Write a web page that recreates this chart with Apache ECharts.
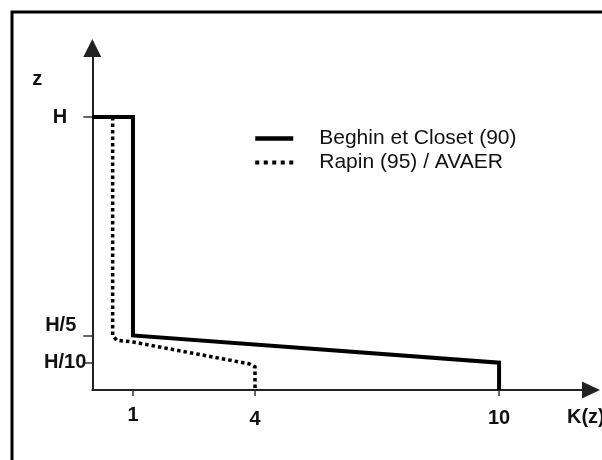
<!DOCTYPE html>
<html>
<head>
<meta charset="utf-8">
<script src="https://cdn.jsdelivr.net/npm/echarts@6/dist/echarts.min.js"></script>
<style>
html,body{margin:0;padding:0;background:#fff;}
#chart{width:602px;height:460px;}
</style>
</head>
<body>
<div id="chart"></div>
<script>
// Data
var seriesNames = ['Beghin et Closet (90)', 'Rapin (95) / AVAER'];
var beghin = [[0, 1], [1, 1], [1, 0.2], [10, 0.1], [10, 0]];
var rapin = [[0.5, 1], [0.5, 0.2], [0.6, 0.182], [1, 0.176], [3.85, 0.096], [4, 0.085], [4, 0]];
var xTickValues = [1, 4, 10];
var xTickLabels = ['1', '4', '10'];
var yTickValues = [0.1, 0.2, 1];
var yTickLabels = ['H/10', 'H/5', 'H'];
var xName = 'K(z)';
var yName = 'z';

var chart = echarts.init(document.getElementById('chart'));
var bold = { fontFamily: 'Liberation Sans, Arial, sans-serif', fontWeight: 'bold', fontSize: 20, color: '#111' };

chart.setOption({
  animation: false,
  backgroundColor: '#fff',
  grid: { left: 92.3, right: 11, top: 48, bottom: 70, containLabel: false, outerBoundsMode: 'none' },
  legend: {
    orient: 'vertical', left: 248, top: 123, itemWidth: 38, itemHeight: 14, itemGap: 3,
    itemStyle: { opacity: 0 },
    data: [
      { name: seriesNames[0], lineStyle: { width: 4.5, type: 'solid' } },
      { name: seriesNames[1], lineStyle: { width: 4, type: [4, 4.5] } }
    ],
    textStyle: { fontFamily: 'Liberation Sans, Arial, sans-serif', fontSize: 21, lineHeight: 20, color: '#111', padding: [0, 0, 0, 21] }
  },
  xAxis: {
    type: 'value', min: 0, max: 12.26,
    name: '{k|' + xName + '}', nameLocation: 'end', nameGap: -24,
    nameTextStyle: { align: 'left', verticalAlign: 'middle', rich: { k: Object.assign({}, bold, { padding: [54, 0, 0, 0] }) } },
    axisLine: { show: true, symbol: ['none', 'triangle'], symbolSize: [17, 18], lineStyle: { color: '#222', width: 2 } },
    axisTick: { show: true, customValues: xTickValues, length: 6, lineStyle: { color: '#333', width: 1.5 } },
    axisLabel: {
      customValues: xTickValues, margin: 15,
      formatter: function (v) {
        var i = xTickValues.indexOf(v);
        return '{x' + i + '|' + xTickLabels[i] + '}';
      },
      rich: {
        x0: Object.assign({}, bold, { padding: [0, 0, 0, 0] }),
        x1: Object.assign({}, bold, { padding: [4, 0, 0, 0] }),
        x2: Object.assign({}, bold, { padding: [3, 0, 0, 0] })
      }
    },
    splitLine: { show: false }
  },
  yAxis: {
    type: 'value', min: 0, max: 1.253,
    name: yName, nameLocation: 'end', nameGap: -31,
    nameTextStyle: Object.assign({}, bold, { align: 'center', verticalAlign: 'middle', padding: [0, 110, 0, 0] }),
    axisLine: { show: true, symbol: ['none', 'triangle'], symbolSize: [18, 18], lineStyle: { color: '#222', width: 2 } },
    axisTick: { show: true, customValues: yTickValues, length: 9, lineStyle: { color: '#333', width: 1.5 } },
    axisLabel: {
      customValues: yTickValues, margin: 6,
      formatter: function (v) {
        var i = yTickValues.indexOf(v);
        return '{y' + i + '|' + yTickLabels[i] + '}';
      },
      rich: {
        y0: Object.assign({}, bold, { padding: [0, 0, 0, 0] }),
        y1: Object.assign({}, bold, { padding: [0, 10, 20, 0] }),
        y2: Object.assign({}, bold, { padding: [0, 19, 0, 0] })
      }
    },
    splitLine: { show: false }
  },
  series: [
    {
      name: seriesNames[0], type: 'line', data: beghin, symbol: 'none',
      lineStyle: { color: '#000', width: 4, type: 'solid', join: 'miter', cap: 'butt' },
      itemStyle: { color: '#000' }
    },
    {
      name: seriesNames[1], type: 'line', data: rapin, symbol: 'none',
      lineStyle: { color: '#000', width: 3.5, type: [3.5, 3], join: 'miter', cap: 'butt' },
      itemStyle: { color: '#000' }
    }
  ],
  graphic: [
    { type: 'polyline', silent: true, shape: { points: [[12, 460], [12, 12], [602, 12]] }, style: { stroke: '#000', lineWidth: 3, fill: null } }
  ]
});
</script>
</body>
</html>
